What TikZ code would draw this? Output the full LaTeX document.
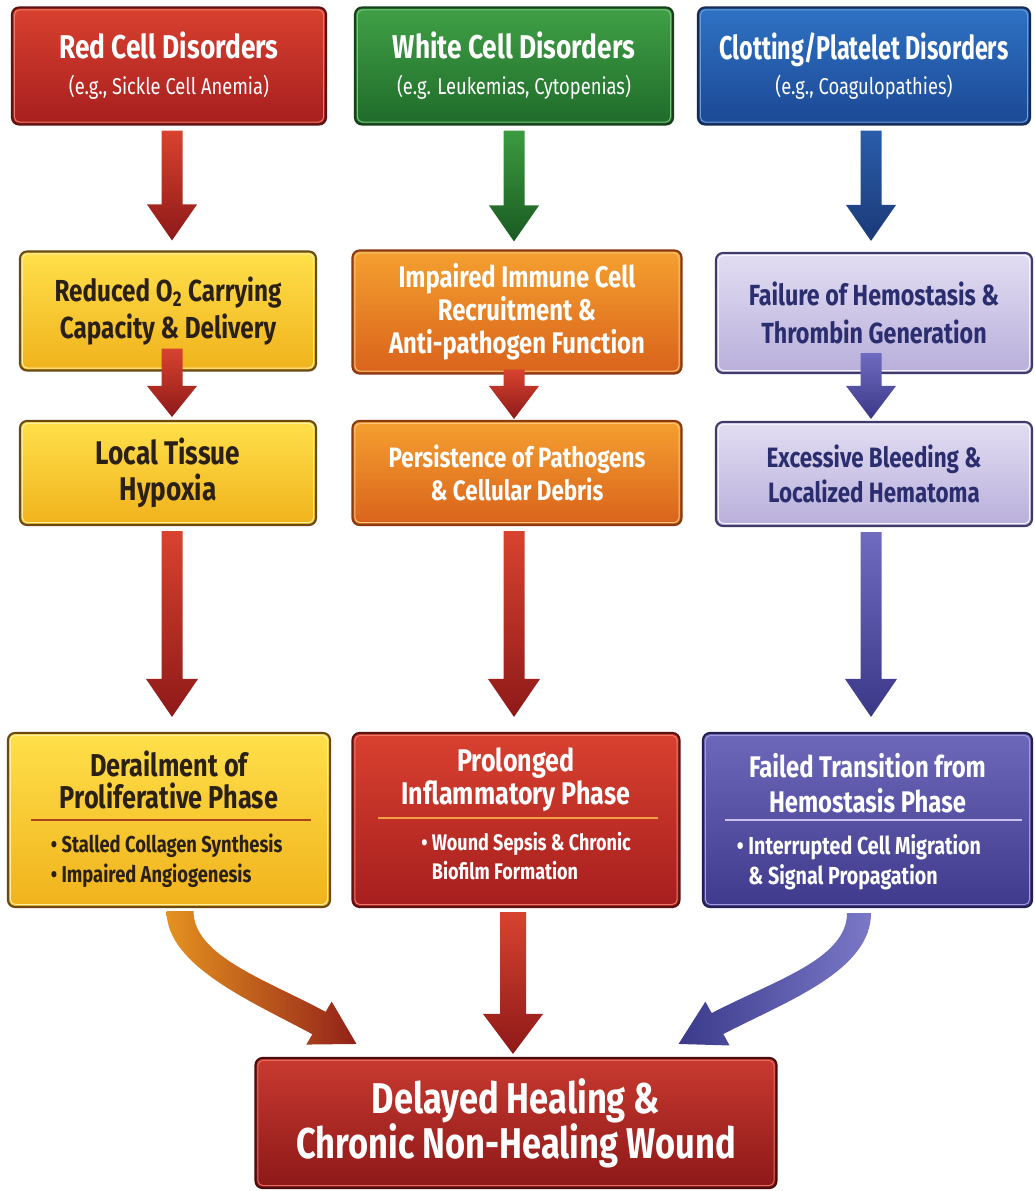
\documentclass[tikz,border=0pt]{standalone}
\usepackage{fontspec}
\setmainfont{Fira Sans}[FakeStretch=0.8]
\newfontfamily\narrowf{Fira Sans}[FakeStretch=0.71]
\usetikzlibrary{calc}
\definecolor{redT}{HTML}{D9412F}\definecolor{redB}{HTML}{A61E1E}\definecolor{redD}{HTML}{5C1212}\definecolor{redL}{HTML}{EC7A66}
\definecolor{grnT}{HTML}{40A046}\definecolor{grnB}{HTML}{1F6B2A}\definecolor{grnD}{HTML}{173F1A}\definecolor{grnL}{HTML}{74C47A}
\definecolor{bluT}{HTML}{2F72C4}\definecolor{bluB}{HTML}{1B4894}\definecolor{bluD}{HTML}{142C55}\definecolor{bluL}{HTML}{6A9CDD}
\definecolor{yelT}{HTML}{FFE04A}\definecolor{yelB}{HTML}{F0B21C}\definecolor{yelD}{HTML}{6B4A12}\definecolor{yelL}{HTML}{FFF1A6}\definecolor{yelX}{HTML}{2B2015}
\definecolor{oraT}{HTML}{F5A030}\definecolor{oraB}{HTML}{D9621B}\definecolor{oraD}{HTML}{8A3A10}\definecolor{oraL}{HTML}{F9C47C}
\definecolor{lavT}{HTML}{E2DDF2}\definecolor{lavB}{HTML}{B9AFDB}\definecolor{lavD}{HTML}{3E3A6A}\definecolor{lavL}{HTML}{F6F3FF}\definecolor{lavX}{HTML}{2A2E6E}
\definecolor{purT}{HTML}{6E68BA}\definecolor{purB}{HTML}{3F3A8C}\definecolor{purD}{HTML}{231F4F}\definecolor{purL}{HTML}{A19DDB}
\definecolor{finT}{HTML}{C93A30}\definecolor{finB}{HTML}{8C1818}\definecolor{finD}{HTML}{4A0C0C}\definecolor{finL}{HTML}{E06A5A}
\definecolor{arRedT}{HTML}{D8432F}\definecolor{arRedB}{HTML}{8E1919}
\definecolor{arGrnT}{HTML}{3C9B40}\definecolor{arGrnB}{HTML}{1A5A22}
\definecolor{arBluT}{HTML}{2A5DAA}\definecolor{arBluB}{HTML}{1B3A78}
\definecolor{arPurT}{HTML}{6F6BC0}\definecolor{arPurB}{HTML}{3B3888}
\definecolor{arOraL}{HTML}{E5921F}\definecolor{arOraR}{HTML}{92211A}
\definecolor{arPurL}{HTML}{3B3A8A}\definecolor{arPurR}{HTML}{7B78C8}
\definecolor{sepY}{HTML}{A8461E}\definecolor{sepR}{HTML}{F0A040}\definecolor{sepP}{HTML}{C8C0F0}
\newcommand\subf{\fontsize{16.3}{20}\selectfont\mdseries}
\newcommand\fsz[2]{\fontsize{#1}{#2}\selectfont\bfseries}
\newcommand\blockarrow[6]{\path[#1] ($(#2)+(-#4,0)$) -- ($(#2)+(#4,0)$) -- ($(#3)+(#4,-#6)$) -- ($(#3)+(#5,-#6)$) -- (#3) -- ($(#3)+(-#5,-#6)$) -- ($(#3)+(-#4,-#6)$) -- cycle;}
\tikzset{
  box/.style n args={4}{draw=#3, top color=#1, bottom color=#2, text=#4, rounded corners=5pt, line width=1.5pt, align=center, inner sep=0pt},
  sz/.style 2 args={minimum width=#1*0.025cm, minimum height=#2*0.025cm},
  fone/.style={font=\fsz{23.4}{25.5}},
  arred/.style={top color=arRedT, bottom color=arRedB},
  argrn/.style={top color=arGrnT, bottom color=arGrnB},
  arblu/.style={top color=arBluT, bottom color=arBluB},
  arpur/.style={top color=arPurT, bottom color=arPurB},
  arleft/.style={left color=arOraL, right color=arOraR},
  arright/.style={left color=arPurL, right color=arPurR},
  inner/.style={line width=0.7pt, rounded corners=3.5pt},
  sepline/.style={line width=1.2pt},
}
\begin{document}
\begin{tikzpicture}[x=0.025cm,y=-0.025cm]
\useasboundingbox (0,0) rectangle (1034,1191);
\fill[white] (0,0) rectangle (1034,1191);
% row 1
\node[box={redT}{redB}{redD}{white}, sz={314}{117}, fone] (r1) at (169,66) {Red Cell Disorders\\{\subf (e.g., Sickle Cell Anemia)}};
\node[box={grnT}{grnB}{grnD}{white}, sz={318}{117}, fone] (g1) at (514,66) {White Cell Disorders\\{\subf (e.g. Leukemias, Cytopenias)}};
\node[box={bluT}{bluB}{bluD}{white}, sz={332}{117}, fone] (b1) at (864,66) {{\narrowf Clotting/Platelet Disorders}\\{\subf (e.g., Coagulopathies)}};
% row 2
\node[box={yelT}{yelB}{yelD}{yelX}, sz={296}{119}, font=\fsz{21.6}{26}] (y1) at (168,311) {Reduced O\textsubscript{2} Carrying\\Capacity \& Delivery};
\node[box={oraT}{oraB}{oraD}{white}, sz={329}{123}, font=\fsz{21.2}{23.5}] (o1) at (517,312) {Impaired Immune Cell\\Recruitment \&\\Anti-pathogen Function};
\node[box={lavT}{lavB}{lavD}{lavX}, sz={316}{120}, font=\fsz{20.7}{27}] (l1) at (874,313) {Failure of Hemostasis \&\\Thrombin Generation};
% row 3
\node[box={yelT}{yelB}{yelD}{yelX}, sz={296}{104}, font=\fsz{23.3}{26}] (y2) at (168,473) {Local Tissue\\Hypoxia};
\node[box={oraT}{oraB}{oraD}{white}, sz={329}{104}, font=\fsz{19.9}{24}] (o2) at (517,473) {Persistence of Pathogens\\\& Cellular Debris};
\node[box={lavT}{lavB}{lavD}{lavX}, sz={316}{104}, font=\fsz{19.9}{25}] (l2) at (874,474) {Excessive Bleeding \&\\Localized Hematoma};
% row 4
\node[box={yelT}{yelB}{yelD}{yelX}, sz={322}{174}] (y3) at (169,820) {};
\node[box={redT}{redB}{redD}{white}, sz={327}{174}] (r3) at (516,820) {};
\node[box={purT}{purB}{purD}{white}, sz={329}{174}] (p3) at (867.5,820) {};
% final
\node[box={finT}{finB}{finD}{white}, sz={521}{130}, font=\fsz{30.6}{32}] (f) at (516,1123) {Delayed Healing \&\\Chronic Non-Healing Wound};
% inner highlight borders
\foreach \n/\c in {r1/redL,g1/grnL,b1/bluL,y1/yelL,o1/oraL,l1/lavL,y2/yelL,o2/oraL,l2/lavL,y3/yelL,r3/redL,p3/purL,f/finL}
  \draw[inner, draw=\c] ($(\n.north west)+(3.5,3.5)$) rectangle ($(\n.south east)+(-3.5,-3.5)$);
% row 4 contents
\node[font=\fsz{22.5}{23.4}, text=yelX, align=center] (y3t) at ($(y3.north)+(0,48)$) {Derailment of\\Proliferative Phase};
\node[font=\fsz{22.3}{23.4}, text=white, align=center] (r3t) at ($(r3.north)+(0,48)$) {Prolonged\\Inflammatory Phase};
\node[font=\fsz{21.2}{24.5}, text=white, align=center] (p3t) at ($(p3.north)+(0,51)$) {Failed Transition from\\Hemostasis Phase};
\draw[sepline, draw=sepY] ($(y3.west)+(24,0)$) -- ($(y3.east)+(-20,0)$);
\draw[sepline, draw=sepR] ($(r3.west)+(27,-2)$) -- ($(r3.east)+(-23,-2)$);
\draw[sepline, draw=sepP] ($(p3.west)+(23,0)$) -- ($(p3.east)+(-11,0)$);
\node[font=\fsz{16.3}{21.5}, text=yelX, align=left, anchor=west] (y3b) at ($(y3.west)+(39,41)$) {\textbullet\ Stalled Collagen Synthesis\\\textbullet\ Impaired Angiogenesis};
\node[font=\fsz{16}{20.5}, text=white, align=left, anchor=west] (r3b) at ($(r3.west)+(65,36)$) {\textbullet\ Wound Sepsis \& Chronic\\\hphantom{\textbullet\ }Biofilm Formation};
\node[font=\fsz{17.5}{21.5}, text=white, align=left, anchor=west] (p3b) at ($(p3.west)+(30,42)$) {\textbullet\ Interrupted Cell Migration\\\hphantom{\textbullet\ }\& Signal Propagation};
% column axes
\coordinate (X1) at (172,0);
\coordinate (X2) at (514,0);
\coordinate (X3) at (871,0);
% vertical arrows
\coordinate (a11) at ($(X1 |- r1.south)+(0,5)$);  \coordinate (t11) at ($(X1 |- y1.north)+(0,-10)$);
\coordinate (a12) at ($(X1 |- y1.south)+(0,-23)$); \coordinate (t12) at ($(X1 |- y2.north)+(0,-3)$);
\coordinate (a13) at ($(X1 |- y2.south)+(0,5)$);  \coordinate (t13) at ($(X1 |- y3.north)+(0,-15)$);
\coordinate (a21) at ($(X2 |- g1.south)+(0,5)$);  \coordinate (t21) at ($(X2 |- o1.north)+(0,-8)$);
\coordinate (a22) at ($(X2 |- o1.south)+(0,-5)$); \coordinate (t22) at ($(X2 |- o2.north)+(0,-1)$);
\coordinate (a23) at ($(X2 |- o2.south)+(0,5)$);  \coordinate (t23) at ($(X2 |- r3.north)+(0,-15)$);
\coordinate (a31) at ($(X3 |- b1.south)+(0,5)$);  \coordinate (t31) at ($(X3 |- l1.north)+(0,-11)$);
\coordinate (a32) at ($(X3 |- l1.south)+(0,-21)$); \coordinate (t32) at ($(X3 |- l2.north)+(0,-2)$);
\coordinate (a33) at ($(X3 |- l2.south)+(0,5)$);  \coordinate (t33) at ($(X3 |- p3.north)+(0,-15)$);
\coordinate (a4) at ($(X2 |- r3.south)+(-1,4)$);  \coordinate (t4) at ($(X2 |- f.north)+(-1,-3)$);
\blockarrow{arred}{a11}{t11}{10.5}{25}{36}
\blockarrow{arred}{a12}{t12}{10.5}{25}{31}
\blockarrow{arred}{a13}{t13}{10.5}{26}{38}
\blockarrow{argrn}{a21}{t21}{10.5}{25}{36}
\blockarrow{arred}{a22}{t22}{10.5}{25}{33}
\blockarrow{arred}{a23}{t23}{10.5}{26}{38}
\blockarrow{arblu}{a31}{t31}{10.5}{25}{36}
\blockarrow{arpur}{a32}{t32}{10.5}{25}{33}
\blockarrow{arpur}{a33}{t33}{10.5}{26}{38}
\blockarrow{arred}{a4}{t4}{13}{30}{40}
% curved arrows
\coordinate (SL) at ($(y3.south)+(11,3)$);
\coordinate (TL) at ($(f.north west)+(102,-13)$);
\path[arleft] ($(SL)+(13.5,0)$) .. controls ($(SL)+(13.5,45)$) and ($(SL)+(86.6,68.8)$) .. ($(SL)+(145.6,100.8)$) -- ($(SL)+(151.7,90.5)$) -- (TL) -- ($(SL)+(126.3,133.5)$) -- ($(SL)+(132.4,123.2)$) .. controls ($(SL)+(73.4,91.2)$) and ($(SL)+(-13.5,55)$) .. ($(SL)+(-13.5,0)$) -- cycle;
\coordinate (SR) at ($(p3.south)+(-8.5,5)$);
\coordinate (TR) at ($(f.north east)+(-99,-13)$);
\path[arright] ($(SR)+(12,0)$) .. controls ($(SR)+(12,58)$) and ($(SR)+(-73.2,88.5)$) .. ($(SR)+(-135.7,121)$) -- ($(SR)+(-129.4,132.4)$) -- (TR) -- ($(SR)+(-153.6,88.6)$) -- ($(SR)+(-147.3,100)$) .. controls ($(SR)+(-84.8,67.5)$) and ($(SR)+(-12,46)$) .. ($(SR)+(-12,0)$) -- cycle;
\end{tikzpicture}
\end{document}
